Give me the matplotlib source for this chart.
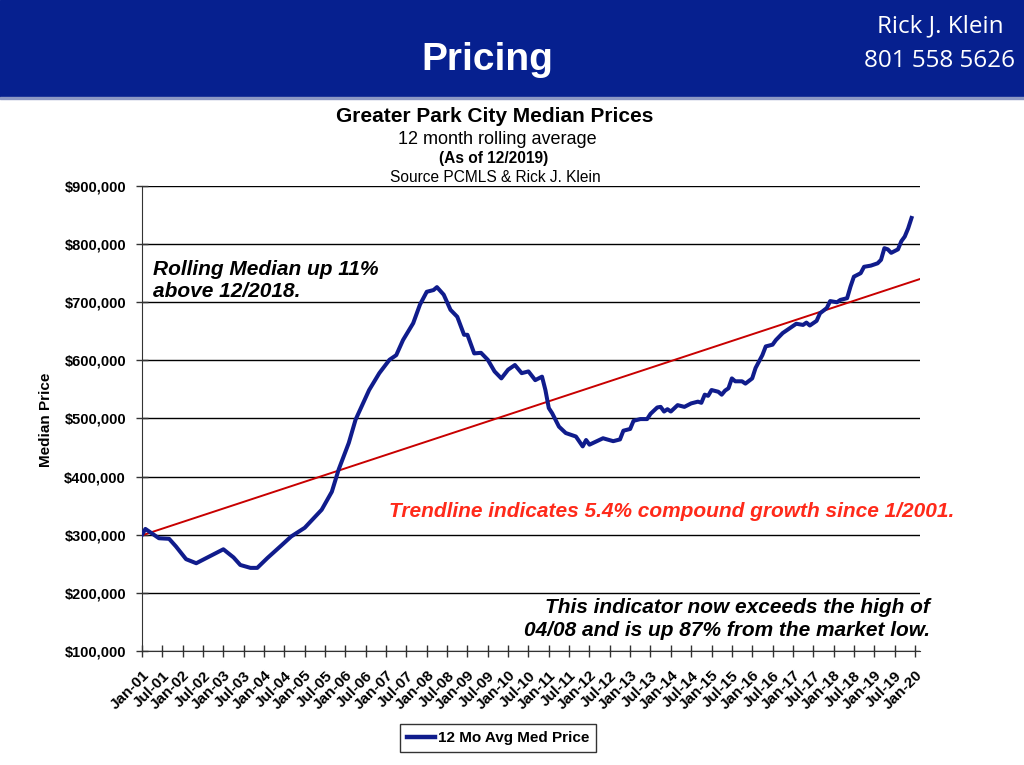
import matplotlib
matplotlib.use('Agg')
import matplotlib.pyplot as plt
from matplotlib.ticker import FuncFormatter
import numpy as np

plt.rcParams['font.family'] = ['Liberation Sans', 'DejaVu Sans']

# months since Jan-2001 and 12 month rolling median (thousands $)
months = [0, 1, 5, 8, 10, 13, 16, 19, 24, 27, 29, 32, 34, 37, 41, 44, 48, 53, 56, 58,
          61, 63, 67, 70, 73, 75, 77, 80, 82, 84, 86, 87, 89, 91, 93, 95, 96, 98, 100, 102,
          104, 106, 108, 110, 112, 114, 116, 118, 119, 120, 121, 123, 125, 128, 130, 131, 132, 136, 139, 141,
          142, 144, 145, 147, 149, 150, 152, 153, 154, 155, 156, 158, 160, 162, 164, 165, 166, 167, 168, 170,
          171, 172, 173, 174, 175, 177, 178, 180, 181, 183, 184, 186, 187, 189, 191, 193, 195, 196, 197, 199,
          200, 202, 203, 205, 206, 208, 209, 210, 212, 213, 215, 217, 218, 219, 220, 221, 223, 224, 225, 226, 227]
price_k = [300, 310, 294, 293, 280, 258, 251, 260, 275, 261, 248, 243, 243, 260, 281, 297, 312, 343, 374, 412,
           458, 498, 549, 578, 601, 609, 635, 664, 696, 718, 721, 726, 713, 687, 675, 644, 644, 612, 613, 601,
           581, 569, 584, 592, 578, 581, 566, 572, 549, 518, 509, 486, 475, 469, 452, 463, 455, 466, 461, 464,
           479, 482, 496, 499, 499, 508, 519, 520, 512, 516, 512, 523, 520, 526, 529, 527, 541, 539, 549, 546,
           541, 548, 552, 569, 564, 564, 560, 569, 587, 609, 624, 627, 635, 647, 655, 663, 661, 665, 660, 668,
           681, 690, 702, 700, 704, 707, 727, 744, 750, 761, 763, 767, 773, 793, 791, 785, 791, 805, 813, 827, 845]

# linear trendline end points (month, $)
trend_x = [0, 229.5]
trend_y = [299000, 740000]

years = list(range(1, 21))
tick_pos = []
tick_lab = []
for i, yr in enumerate(years):
    tick_pos.append(i * 12)
    tick_lab.append('Jan-%02d' % yr)
    if yr < 20:
        tick_pos.append(i * 12 + 6)
        tick_lab.append('Jul-%02d' % yr)

navy = '#101c8c'
header_blue = '#06208f'

fig = plt.figure(figsize=(10.24, 7.65), dpi=100)

# header band
fig.patches.append(plt.Rectangle((0, 1 - 97 / 765), 1, 97 / 765, transform=fig.transFigure,
                                 color=header_blue, zorder=0))
fig.patches.append(plt.Rectangle((0, 1 - 99 / 765), 1, 2 / 765, transform=fig.transFigure,
                                 color='#8c98c4', zorder=0))
fig.text(487 / 1024, 1 - 70 / 765, 'Pricing', color='white', fontsize=28, fontweight='bold',
         ha='center', va='baseline')
fig.text(940 / 1024, 1 - 26 / 765, 'Rick J. Klein', color='white', fontsize=17.5,
         family='Open Sans', ha='center', va='center')
fig.text(940 / 1024, 1 - 61 / 765, '801 558 5626', color='white', fontsize=17.5,
         family='Open Sans', ha='center', va='center')

# chart titles
fig.text(495 / 1024, 1 - 116 / 765, 'Greater Park City Median Prices', fontsize=15,
         fontweight='bold', ha='center', va='center')
fig.text(497 / 1024, 1 - 139 / 765, '12 month rolling average', fontsize=13, ha='center', va='center')
fig.text(494 / 1024, 1 - 159 / 765, '(As of 12/2019)', fontsize=11.2, fontweight='bold',
         ha='center', va='center')
fig.text(495 / 1024, 1 - 177 / 765, 'Source PCMLS & Rick J. Klein', fontsize=11.2,
         ha='center', va='center')

ax = fig.add_axes([142 / 1024, 1 - 651 / 765, 778 / 1024, 465 / 765])

price = np.array(price_k) * 1000
ax.plot(trend_x, trend_y, color='#c80000', lw=1.4, zorder=3)
ax.plot(months, price, color=navy, lw=2.9, zorder=4, label='12 Mo Avg Med Price')

ax.set_xlim(0, 229.5)
ax.set_ylim(100000, 900000)
ax.set_yticks(range(100000, 900001, 100000))
ax.yaxis.set_major_formatter(FuncFormatter(lambda v, p: '${:,.0f}'.format(v)))
ax.grid(axis='y', color='black', lw=1)
ax.set_axisbelow(True)
for s in ['top', 'right']:
    ax.spines[s].set_visible(False)
ax.spines['left'].set_color('#333333')
ax.spines['bottom'].set_color('#333333')

ax.set_xticks(tick_pos)
ax.set_xticklabels(tick_lab, rotation=45, ha='right', rotation_mode='anchor',
                   fontsize=11, fontweight='bold')
for lab in ax.get_yticklabels():
    lab.set_fontsize(10.5)
    lab.set_fontweight('bold')
ax.tick_params(axis='both', direction='inout', length=9, width=1, color='#333333')
ax.tick_params(axis='y', pad=7)
ax.tick_params(axis='x', pad=8)
ax.set_ylabel('Median Price', fontsize=11, fontweight='bold')
ax.yaxis.set_label_coords(-(142 - 53) / 778, (651 - 420) / 465)

ax.text(0.014, 0.797, 'Rolling Median up 11%\nabove 12/2018.', transform=ax.transAxes,
        fontsize=15, fontweight='bold', style='italic', ha='left', va='center', linespacing=1.25)
ax.text(0.318, 0.3, 'Trendline indicates 5.4% compound growth since 1/2001.',
        transform=ax.transAxes, color='#ff2a1a', fontsize=15, fontweight='bold',
        style='italic', ha='left', va='center')
ax.text(1.013, 0.069, 'This indicator now exceeds the high of\n04/08 and is up 87% from the market low.',
        transform=ax.transAxes, fontsize=15, fontweight='bold', style='italic',
        ha='right', va='center', linespacing=1.25)

leg = fig.legend(loc='center', bbox_to_anchor=(498 / 1024, 1 - 738 / 765),
                 frameon=True, fancybox=False, edgecolor='black', handlelength=1.8,
                 handletextpad=0.2, borderpad=0.45, prop={'weight': 'bold', 'size': 11})
leg.get_frame().set_linewidth(1)
leg.get_lines()[0].set_linewidth(3.2)

fig.savefig('out.png', dpi=100)
